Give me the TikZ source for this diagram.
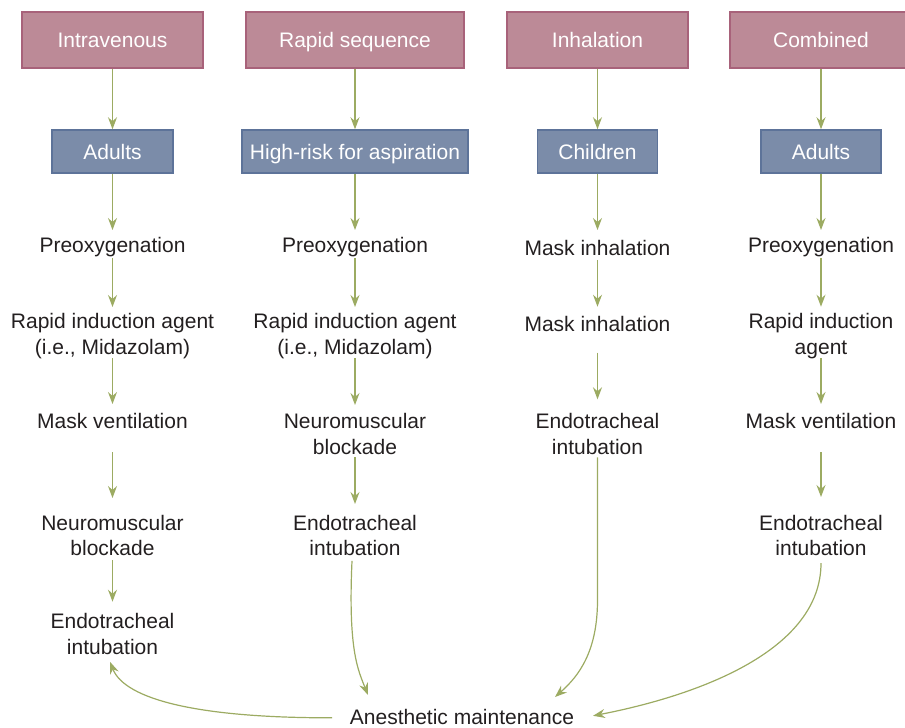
\documentclass[tikz,border=0pt]{standalone}
\usepackage{fontspec}
\setmainfont{Liberation Sans}
\usetikzlibrary{arrows.meta}
\definecolor{pinkF}{HTML}{BC8A97}
\definecolor{pinkB}{HTML}{A8627A}
\definecolor{blueF}{HTML}{7B8CA9}
\definecolor{blueB}{HTML}{5D7399}
\definecolor{grn}{HTML}{9CAB62}
\definecolor{txt}{HTML}{231F20}
\newcommand\diafont{\fontsize{21}{25.5}\selectfont}
\begin{document}
\begin{tikzpicture}[x=1pt,y=-1pt,
  topbox/.style={draw=pinkB, fill=pinkF, line width=1.5pt, text=white, minimum height=56pt, inner sep=0pt, font=\diafont, text height=15pt, text depth=0pt},
  grpbox/.style={draw=blueB, fill=blueF, line width=1.5pt, text=white, minimum height=43pt, inner sep=0pt, font=\diafont, text height=15pt, text depth=0pt},
  lbl/.style={inner sep=0pt, outer sep=0pt, text=txt, align=center, font=\diafont},
  one/.style={lbl, anchor=base, text height=15pt, text depth=4.4pt},
  two/.style={lbl, anchor=north},
  arr/.style={draw=grn, line width=1.2pt, -{Stealth[length=12pt,width=9pt,inset=4pt]}}]
\useasboundingbox (0,0) rectangle (905,728);
\clip (0,0) rectangle (905,728);
% top boxes
\node[topbox, minimum width=181pt] (t1) at (112.5,40) {Intravenous};
\node[topbox, minimum width=218pt] (t2) at (355,40) {Rapid sequence};
\node[topbox, minimum width=181pt] (t3) at (597.5,40) {Inhalation};
\node[topbox, minimum width=182pt] (t4) at (821,40) {Combined};
% group boxes
\node[grpbox, minimum width=121pt] (g1) at (112.5,151.5) {Adults};
\node[grpbox, minimum width=226pt] (g2) at (355,151.5) {High-risk for aspiration};
\node[grpbox, minimum width=120pt] (g3) at (597.5,151.5) {Children};
\node[grpbox, minimum width=120pt] (g4) at (821,151.5) {Adults};
\foreach \i in {1,2,3,4} \draw[arr] (t\i.south) -- (g\i.north);
% column 1
\node[one] (p1) at (112.5,252.3) {Preoxygenation};
\node[two] (r1) at (112.5,313.3) {Rapid induction agent\\(i.e., Midazolam)};
\node[one] (m1) at (112.5,428.3) {Mask ventilation};
\node[two] (n1) at (112.5,515) {Neuromuscular\\blockade};
\node[two] (e1) at (112.5,613.3) {Endotracheal\\intubation};
\draw[arr, shorten >=7.3pt] (g1.south) -- (p1.north);
\draw[arr, shorten <=1.3pt, shorten >=6.3pt] (p1.south) -- (r1.north);
\draw[arr, shorten >=9.3pt] (r1.south) -- (m1.north);
\draw[arr, shorten <=19.3pt, shorten >=17pt] (m1.south) -- (n1.north);
\draw[arr, shorten <=4.2pt, shorten >=11.6pt] (n1.south) -- (e1.north);
% column 2
\node[one] (p2) at (355,252.3) {Preoxygenation};
\node[two] (r2) at (355,313.3) {Rapid induction agent\\(i.e., Midazolam)};
\node[two] (n2) at (355,413.3) {Neuromuscular\\blockade};
\node[two] (e2) at (355,515) {Endotracheal\\intubation};
\draw[arr, shorten >=7.3pt] (g2.south) -- (p2.north);
\draw[arr, shorten <=1.3pt, shorten >=6.3pt] (p2.south) -- (r2.north);
\draw[arr, shorten >=8.3pt] (r2.south) -- (n2.north);
\draw[arr, shorten <=3.2pt, shorten >=11pt] (n2.south) -- (e2.north);
% column 3
\node[one] (i1) at (597.5,255.5) {Mask inhalation};
\node[one] (i2) at (597.5,331.5) {Mask inhalation};
\node[two] (e3) at (597.5,413.3) {Endotracheal\\intubation};
\draw[arr, shorten >=10.5pt] (g3.south) -- (i1.north);
\draw[arr, shorten >=9.8pt] (i1.south) -- (i2.north);
\draw[arr, shorten <=16.8pt, shorten >=14pt] (i2.south) -- (e3.north);
% column 4
\node[one] (p4) at (821,252.5) {Preoxygenation};
\node[two] (r4) at (821,313.3) {Rapid induction\\agent};
\node[one] (m4) at (821,428.3) {Mask ventilation};
\node[two] (e4) at (821,515) {Endotracheal\\intubation};
\draw[arr, shorten >=7.5pt] (g4.south) -- (p4.north);
\draw[arr, shorten <=1.1pt, shorten >=6.6pt] (p4.south) -- (r4.north);
\draw[arr, shorten >=9.3pt] (r4.south) -- (m4.north);
\draw[arr, shorten <=19.3pt, shorten >=18pt] (m4.south) -- (e4.north);
% maintenance
\node[one] (am) at (462,724.5) {Anesthetic maintenance};
\draw[arr] ([xshift=-3pt,yshift=-5pt]e2.south) .. controls (348,650) and (358,670) .. ([xshift=-94pt,yshift=14.5pt]am.north);
\draw[arr] ([yshift=-3.2pt]e3.south) -- (597.5,600) .. controls (597.5,650) and (580,675) .. ([xshift=93pt,yshift=12.5pt]am.north);
\draw[arr] ([yshift=-7.2pt]e4.south) .. controls (821,650) and (700,695) .. ([xshift=131pt,yshift=-6.3pt]am.north);
\draw[arr] ([xshift=-130pt,yshift=-8.3pt]am.north) .. controls (200,718) and (125,700) .. ([xshift=-2.5pt,yshift=-7.6pt]e1.south);
\end{tikzpicture}
\end{document}
